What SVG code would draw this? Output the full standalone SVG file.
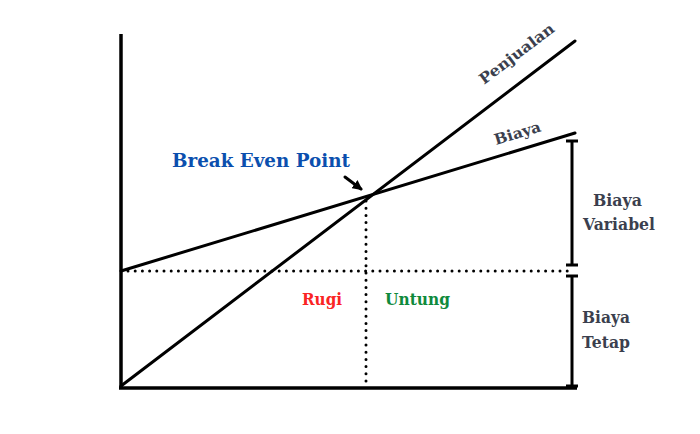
<svg xmlns="http://www.w3.org/2000/svg" width="700" height="434" viewBox="0 0 700 434">
<style>
.ax{stroke:#000;stroke-width:3.5;fill:none}
.ln{stroke:#000;stroke-width:3;fill:none;stroke-linecap:round}
.dot{stroke:#000;stroke-width:3;fill:none;stroke-linecap:round;stroke-dasharray:0 7.2}
.br{stroke:#000;stroke-width:3;fill:none}
.lb{font-family:"DejaVu Serif","Liberation Serif",serif;font-weight:bold;fill:#3b3f4e}
</style>
<defs>
<marker id="ah" viewBox="0 0 10 10" refX="8" refY="5" markerWidth="3.4" markerHeight="3.4" orient="auto"><path d="M0,0 L10,5 L0,10 z" fill="#000"/></marker>
</defs>
<rect width="700" height="434" fill="#fff"/>
<g id="connectors">
<line class="ax" x1="121" y1="34" x2="121" y2="388"/>
<line class="ax" x1="119" y1="388" x2="577" y2="388"/>
<line class="dot" x1="128" y1="271" x2="570" y2="271"/>
<line class="dot" x1="366" y1="201" x2="366" y2="386"/>
<line class="ln" x1="121" y1="386" x2="575" y2="41"/>
<line class="ln" x1="121" y1="271" x2="575" y2="133"/>
<line class="ln" x1="345" y1="177" x2="361" y2="189" marker-end="url(#ah)" stroke-width="3.6"/>
</g>
<g id="bracket-variabel">
<line class="br" x1="572" y1="141" x2="572" y2="265"/>
<line class="br" x1="566" y1="141" x2="578" y2="141"/>
<line class="br" x1="566" y1="265" x2="578" y2="265"/>
</g>
<g id="bracket-tetap">
<line class="br" x1="572" y1="276" x2="572" y2="386"/>
<line class="br" x1="566" y1="276" x2="578" y2="276"/>
<line class="br" x1="566" y1="386" x2="578" y2="386"/>
</g>
<g id="label-bep"><text class="lb" x="172" y="167" font-size="19" style="fill:#0b4fae" textLength="178" lengthAdjust="spacingAndGlyphs">Break Even Point</text></g>
<g id="label-penjualan"><text class="lb" font-size="15" transform="translate(484,85) rotate(-37.2)" textLength="90" lengthAdjust="spacingAndGlyphs">Penjualan</text></g>
<g id="label-biaya"><text class="lb" font-size="15" transform="translate(496,145) rotate(-17)" textLength="48" lengthAdjust="spacingAndGlyphs">Biaya</text></g>
<g id="label-rugi"><text class="lb" x="302" y="305" font-size="16.5" style="fill:#fa2424" textLength="40" lengthAdjust="spacingAndGlyphs">Rugi</text></g>
<g id="label-untung"><text class="lb" x="385" y="305" font-size="16.5" style="fill:#0f8a3c" textLength="65" lengthAdjust="spacingAndGlyphs">Untung</text></g>
<g id="label-variabel">
<text class="lb" x="593" y="206" font-size="16.5" textLength="49" lengthAdjust="spacingAndGlyphs">Biaya</text>
<text class="lb" x="583" y="230" font-size="16.5" textLength="72" lengthAdjust="spacingAndGlyphs">Variabel</text>
</g>
<g id="label-tetap">
<text class="lb" x="582" y="323" font-size="16.5" textLength="48" lengthAdjust="spacingAndGlyphs">Biaya</text>
<text class="lb" x="582" y="348" font-size="16.5" textLength="48" lengthAdjust="spacingAndGlyphs">Tetap</text>
</g>
</svg>
